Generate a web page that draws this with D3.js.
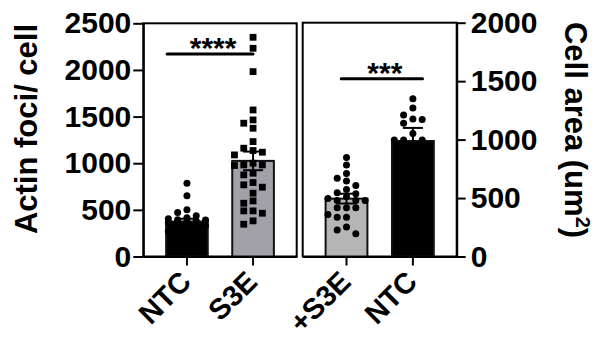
<!DOCTYPE html>
<html>
<head>
<meta charset="utf-8">
<script src="https://cdn.jsdelivr.net/npm/d3@7"></script>
<style>
  body { margin: 0; background: #fff; }
  svg { display: block; font-family: "Liberation Sans", Arial, sans-serif; font-weight: bold; }
</style>
</head>
<body>
<script>
// left panel: actin foci per cell
var leftCats = ["NTC", "S3E"];
var leftMeans = [375, 1025];
var leftSem = [30, 100];
var leftNTC = [786, 650, 500, 471, 436, 415, 404, 393, 390, 380, 375, 362, 345, 330, 310, 290, 270, 250, 230, 210];
var leftS3E = [2350, 2232, 1982, 1571, 1464, 1429, 1375, 1232, 1161, 1136, 1118, 1089, 1000, 982, 982, 975,
               893, 875, 793, 768, 743, 679, 596, 571, 489, 489, 464, 382, 346];
var leftTicks = [0, 500, 1000, 1500, 2000, 2500];
var leftSigY = 2170, leftStars = "****";

// right panel: cell area
var rightCats = ["+S3E", "NTC"];
var rightMeans = [495, 988];
var rightSem = [42, 112];
var rightS3E = [846, 783, 709, 669, 646, 608, 574, 545, 537, 511, 496, 479, 479, 479, 416, 416, 416,
                359, 336, 336, 252, 227, 195];
var rightNTC = [1349, 1271, 1211, 1176, 1171, 1139, 1053, 996, 996, 996, 930, 880];
var rightTicks = [0, 500, 1000, 1500, 2000];
var rightSigY = 1520, rightStars = "***";

var width = 601, height = 338;
var base = 256.5;
var font = "'Liberation Sans', Arial, sans-serif";

var svg = d3.select("body").append("svg")
  .attr("width", width)
  .attr("height", height);

var yL = d3.scaleLinear().domain([0, 2500]).range([base, 23.3]);
var yR = d3.scaleLinear().domain([0, 2000]).range([base, 22.7]);
var xL = d3.scaleBand().domain(leftCats).range([143.3, 296.7]).paddingInner(0.34).paddingOuter(0.33);
var xR = d3.scaleBand().domain(rightCats).range([302.7, 456.7]).paddingInner(0.34).paddingOuter(0.33);

// simple column scatter, like prism's
function swarm(vals, y, cx, step, size) {
  var placed = [];
  var slots = [0, -1, 1, -2, 2];
  return vals.slice().sort((a, b) => b - a).map(function(v) {
    var py = y(v), best = 0, bestGap = -1;
    for (var s of slots) {
      var gap = d3.min(placed.filter(p => p.s === s), p => Math.abs(p.y - py));
      if (gap === undefined) gap = Infinity;
      if (gap >= size) { best = s; break; }
      if (gap > bestGap) { bestGap = gap; best = s; }
    }
    placed.push({ s: best, y: py });
    return { x: cx + best * step, y: py };
  });
}

function panel(x, y, cats, means, sem, groups, fills, shapes) {
  var g = svg.append("g");
  var bw = x.bandwidth();
  var top = y.range()[1];

  // frame
  g.append("rect")
    .attr("x", x.range()[0]).attr("y", top)
    .attr("width", x.range()[1] - x.range()[0]).attr("height", base - top)
    .attr("fill", "none").attr("stroke", "#000").attr("stroke-width", 2);

  g.selectAll(".bar")
    .data(cats)
    .enter().append("rect")
    .attr("x", d => x(d) + 1)
    .attr("y", (d, i) => y(means[i]))
    .attr("width", bw - 2)
    .attr("height", (d, i) => base - y(means[i]))
    .attr("fill", (d, i) => fills[i])
    .attr("stroke", "#111")
    .attr("stroke-width", 2);

  // error bars
  cats.forEach(function(c, i) {
    var cx = x(c) + bw / 2;
    g.append("line")
      .attr("x1", cx).attr("x2", cx)
      .attr("y1", y(means[i] - sem[i])).attr("y2", y(means[i] + sem[i]))
      .attr("stroke", "#000").attr("stroke-width", 2);
    [means[i] - sem[i], means[i] + sem[i]].forEach(function(v) {
      g.append("line")
        .attr("x1", cx - 10).attr("x2", cx + 10)
        .attr("y1", y(v)).attr("y2", y(v))
        .attr("stroke", "#000").attr("stroke-width", 2);
    });
  });

  // points
  cats.forEach(function(c, i) {
    var pts = swarm(groups[i], y, x(c) + bw / 2, 9.3, 7.2);
    if (shapes[i] === "square") {
      g.selectAll(".sq" + i).data(pts).enter().append("rect")
        .attr("x", d => d.x - 3.4).attr("y", d => d.y - 3.4)
        .attr("width", 6.8).attr("height", 6.8).attr("fill", "#000");
    } else {
      g.selectAll(".dot" + i).data(pts).enter().append("circle")
        .attr("cx", d => d.x).attr("cy", d => d.y)
        .attr("r", 3.5).attr("fill", "#000");
    }
  });

  // x axis
  var xa = g.append("g")
    .attr("transform", `translate(0,${base})`)
    .call(d3.axisBottom(x).tickSize(9).tickSizeOuter(0));
  xa.select(".domain").attr("stroke-width", 2);
  xa.selectAll(".tick line").attr("stroke-width", 2);
  xa.selectAll(".tick text")
    .attr("x", 0).attr("y", 0).attr("dy", 0)
    .attr("transform", "translate(6,27) rotate(-45)")
    .attr("text-anchor", "end")
    .attr("font-size", 29).attr("font-weight", "bold").attr("font-family", font)
    .attr("fill", "#000");
  return g;
}

panel(xL, yL, leftCats, leftMeans, leftSem, [leftNTC, leftS3E], ["#000", "#a2a1a8"], ["dot", "square"]);
panel(xR, yR, rightCats, rightMeans, rightSem, [rightS3E, rightNTC], ["#b5b5b5", "#000"], ["dot", "dot"]);

// y axes
var fmt = d3.format("d");
var ya = svg.append("g")
  .attr("transform", "translate(143.3,0)")
  .call(d3.axisLeft(yL).tickValues(leftTicks).tickFormat(fmt).tickSize(10).tickPadding(2).tickSizeOuter(0));
var yb = svg.append("g")
  .attr("transform", "translate(456.7,0)")
  .call(d3.axisRight(yR).tickValues(rightTicks).tickFormat(fmt).tickSize(9).tickPadding(5).tickSizeOuter(0));
[ya, yb].forEach(function(a) {
  a.select(".domain").attr("stroke-width", 2);
  a.selectAll(".tick line").attr("stroke-width", 2);
  a.selectAll(".tick text")
    .attr("font-size", 30).attr("font-weight", "bold").attr("font-family", font).attr("fill", "#000");
});

// significance
function sig(x1, x2, yv, stars) {
  svg.append("line")
    .attr("x1", x1).attr("x2", x2).attr("y1", yv).attr("y2", yv)
    .attr("stroke", "#000").attr("stroke-width", 3).attr("stroke-linecap", "round");
  svg.append("text")
    .attr("x", (x1 + x2) / 2 + 3).attr("y", yv + 4)
    .attr("text-anchor", "middle").attr("font-size", 30)
    .text(stars);
}
sig(xL(leftCats[0]) + 2, xL(leftCats[1]) + xL.bandwidth() / 2, yL(leftSigY), leftStars);
sig(xR(rightCats[0]) + xR.bandwidth() * 0.38, xR(rightCats[1]) + xR.bandwidth() * 0.72, yR(rightSigY), rightStars);

// axis titles
svg.append("text")
  .attr("transform", "translate(37,129) rotate(-90)")
  .attr("text-anchor", "middle").attr("font-size", 31)
  .text("Actin foci/ cell");
var t2 = svg.append("text")
  .attr("transform", "translate(565,130) rotate(90)")
  .attr("text-anchor", "middle").attr("font-size", 31);
t2.append("tspan").text("Cell area (um");
t2.append("tspan").attr("baseline-shift", "super").attr("font-size", 20).text("2");
t2.append("tspan").text(")");
</script>
</body>
</html>
